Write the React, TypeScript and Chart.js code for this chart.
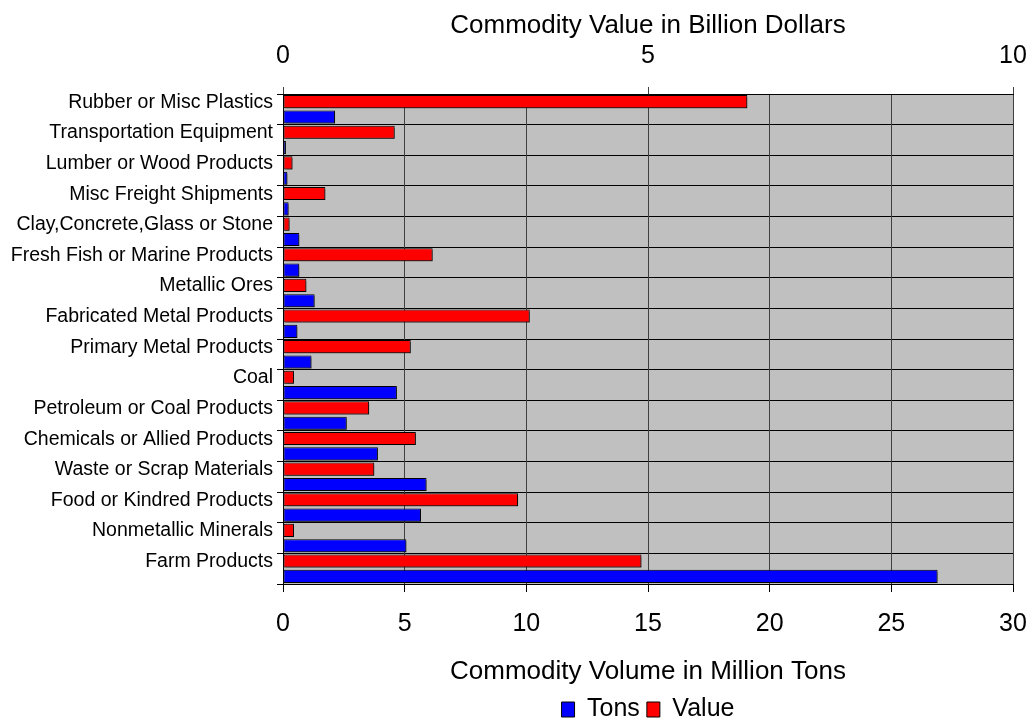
import React, { useEffect, useRef } from "react";
import { Chart, registerables } from "chart.js";

Chart.register(...registerables);

const categories = [
  "Rubber or Misc Plastics",
  "Transportation Equipment",
  "Lumber or Wood Products",
  "Misc Freight Shipments",
  "Clay,Concrete,Glass or Stone",
  "Fresh Fish or Marine Products",
  "Metallic Ores",
  "Fabricated Metal Products",
  "Primary Metal Products",
  "Coal",
  "Petroleum or Coal Products",
  "Chemicals or Allied Products",
  "Waste or Scrap Materials",
  "Food or Kindred Products",
  "Nonmetallic Minerals",
  "Farm Products",
];

// Commodity value, billion dollars (top axis)
const valueBillions = [
  6.36, 1.53, 0.13, 0.58, 0.09, 2.05, 0.32, 3.38, 1.75, 0.15, 1.18, 1.82, 1.25,
  3.22, 0.15, 4.91,
];

// Commodity volume, million tons (bottom axis)
const tonsMillions = [
  2.14, 0.12, 0.18, 0.23, 0.67, 0.67, 1.3, 0.59, 1.17, 4.68, 2.62, 3.9, 5.9,
  5.67, 5.07, 26.9,
];

const tonsTicks = { min: 0, max: 30, step: 5 };
const valueTicks = { min: 0, max: 10, step: 5 };

const plotBackground = {
  id: "plotBackground",
  beforeDraw(chart: any) {
    const { ctx, chartArea } = chart;
    if (!chartArea) return;
    ctx.save();
    ctx.fillStyle = "#C0C0C0";
    ctx.fillRect(
      chartArea.left,
      chartArea.top,
      chartArea.right - chartArea.left,
      chartArea.bottom - chartArea.top
    );
    ctx.restore();
  },
};

const barShadow = {
  id: "barShadow",
  beforeDatasetsDraw(chart: any) {
    const ctx = chart.ctx;
    ctx.save();
    ctx.shadowColor = "rgba(0,0,0,0.45)";
    ctx.shadowOffsetX = 2;
    ctx.shadowOffsetY = 2;
    ctx.shadowBlur = 0;
  },
  afterDatasetsDraw(chart: any) {
    chart.ctx.restore();
  },
};

export default function App() {
  const canvasRef = useRef<HTMLCanvasElement | null>(null);

  useEffect(() => {
    document.body.style.margin = "0";
    const canvas = canvasRef.current;
    if (!canvas) return;
    Chart.defaults.font.family = "'Liberation Sans', Arial, sans-serif";
    Chart.defaults.color = "#000";

    const chart = new Chart(canvas, {
      type: "bar",
      data: {
        labels: categories,
        datasets: [
          {
            label: "Value",
            data: valueBillions,
            xAxisID: "x2",
            backgroundColor: "#FF0000",
            borderColor: "#000000",
            borderWidth: 1,
            borderSkipped: false,
            categoryPercentage: 1.0,
            barPercentage: 0.86,
          },
          {
            label: "Tons",
            data: tonsMillions,
            xAxisID: "x",
            backgroundColor: "#0000FF",
            borderColor: "#000000",
            borderWidth: 1,
            borderSkipped: false,
            categoryPercentage: 1.0,
            barPercentage: 0.86,
          },
        ],
      },
      options: {
        indexAxis: "y",
        responsive: false,
        animation: false,
        devicePixelRatio: 1,
        layout: { padding: { left: 0, right: 19, top: 0, bottom: -4 } },
        plugins: {
          legend: {
            display: true,
            position: "bottom",
            fullSize: false,
            reverse: true,
            labels: {
              font: { size: 25 },
              boxWidth: 13,
              boxHeight: 15,
              padding: 7,
              color: "#000",
            },
          },
          tooltip: { enabled: false },
          title: { display: false },
        },
        scales: {
          y: {
            type: "category",
            position: "left",
            grid: {
              offset: true,
              color: "#000000",
              lineWidth: 1,
              tickLength: 6,
              tickColor: "#000000",
            },
            border: { color: "#000000" },
            ticks: {
              autoSkip: false,
              font: { size: 19.5 },
              padding: 4,
              labelOffset: -7,
              color: "#000",
            },
            afterFit: (s: any) => {
              s.width = 283;
            },
          },
          x: {
            type: "linear",
            position: "bottom",
            min: tonsTicks.min,
            max: tonsTicks.max,
            ticks: {
              stepSize: tonsTicks.step,
              font: { size: 25 },
              padding: 17,
              color: "#000",
            },
            grid: {
              color: "#404040",
              lineWidth: 1,
              tickLength: 8,
              tickColor: "#000000",
            },
            border: { color: "#000000" },
            title: {
              display: true,
              text: "Commodity Volume in Million Tons",
              font: { size: 26 },
              color: "#000",
              padding: { top: 0, bottom: 3 },
            },
            afterFit: (s: any) => {
              s.height = 106;
              s.paddingLeft = 0;
              s.paddingRight = 0;
            },
          },
          x2: {
            type: "linear",
            position: "top",
            min: valueTicks.min,
            max: valueTicks.max,
            ticks: {
              stepSize: valueTicks.step,
              font: { size: 25 },
              padding: 16,
              color: "#000",
            },
            grid: {
              drawOnChartArea: false,
              tickLength: 7,
              tickColor: "#404040",
            },
            border: { color: "#000000" },
            title: {
              display: true,
              text: "Commodity Value in Billion Dollars",
              font: { size: 26 },
              color: "#000",
              padding: { top: 10, bottom: 0 },
            },
            afterFit: (s: any) => {
              s.height = 94;
              s.paddingLeft = 0;
              s.paddingRight = 0;
            },
          },
        },
      },
      plugins: [plotBackground, barShadow],
    } as any);

    return () => {
      chart.destroy();
    };
  }, []);

  return (
    <canvas
      ref={canvasRef}
      width={1032}
      height={728}
      style={{ display: "block", width: "1032px", height: "728px" }}
    />
  );
}
